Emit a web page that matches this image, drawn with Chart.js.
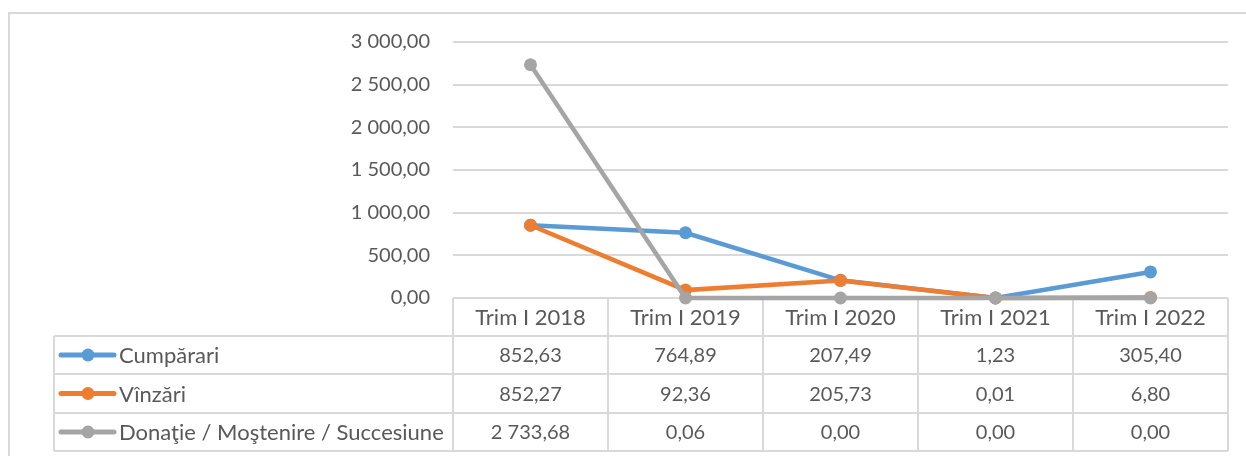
<!DOCTYPE html>
<html>
<head>
<meta charset="utf-8">
<script src="https://cdn.jsdelivr.net/npm/chart.js@4"></script>
<style>
  body { margin: 0; background: #fff; }
  canvas { display: block; }
</style>
</head>
<body>
<canvas id="chart" width="1246" height="456"></canvas>
<script>
// data
const categories = ["Trim I 2018", "Trim I 2019", "Trim I 2020", "Trim I 2021", "Trim I 2022"];
const seriesNames = ["Cumpărari", "Vînzări", "Donaţie / Moştenire / Succesiune"];
const cumparari = [852.63, 764.89, 207.49, 1.23, 305.40];
const vinzari = [852.27, 92.36, 205.73, 0.01, 6.80];
const donatie = [2733.68, 0.06, 0.00, 0.00, 0.00];
const colors = ["#5B9BD5", "#ED7D31", "#A5A5A5"];

const FONT = "Lato, 'Open Sans', sans-serif";
const TEXT = "#595959";
const LINE = "#D9D9D9";
const rowTops = [298, 336, 374, 413, 451];
const legendLeft = 54;

// 2 733,68 style
function fmt(v) {
  let [i, d] = v.toFixed(2).split(".");
  i = i.replace(/\B(?=(\d{3})+(?!\d))/g, " ");
  return i + "," + d;
}

const allSeries = [cumparari, vinzari, donatie];

// data table under the plot: grid first, text after
const tablePlugin = {
  id: "dataTable",
  beforeDatasetsDraw(chart) {
    const ctx = chart.ctx;
    const area = chart.chartArea;
    const colW = (area.right - area.left) / categories.length;

    ctx.save();
    ctx.strokeStyle = LINE;
    ctx.lineWidth = 2;
    ctx.strokeRect(9, 13, 1250, 460);

    ctx.beginPath();
    ctx.moveTo(area.left, rowTops[0]);
    ctx.lineTo(area.right, rowTops[0]);
    for (let r = 1; r < rowTops.length; r++) {
      ctx.moveTo(legendLeft, rowTops[r]);
      ctx.lineTo(area.right, rowTops[r]);
    }
    for (let c = 0; c <= categories.length; c++) {
      const cx = area.left + c * colW;
      ctx.moveTo(cx, rowTops[0]);
      ctx.lineTo(cx, rowTops[4]);
    }
    ctx.moveTo(legendLeft, rowTops[1]);
    ctx.lineTo(legendLeft, rowTops[4]);
    ctx.stroke();
    ctx.restore();
  },
  afterDraw(chart) {
    const ctx = chart.ctx;
    const x = chart.scales.x;

    ctx.save();
    ctx.fillStyle = TEXT;
    ctx.textAlign = "center";
    ctx.textBaseline = "middle";
    ctx.font = "22px " + FONT;
    categories.forEach((c, i) => {
      ctx.fillText(c, x.getPixelForValue(i), (rowTops[0] + rowTops[1]) / 2 + 1);
    });
    allSeries.forEach((s, r) => {
      const cy = (rowTops[r + 1] + rowTops[r + 2]) / 2 + 1;
      ctx.font = "20px " + FONT;
      s.forEach((v, i) => {
        ctx.fillText(fmt(v), x.getPixelForValue(i), cy);
      });
      // legend key
      ctx.strokeStyle = colors[r];
      ctx.lineWidth = 5;
      ctx.lineCap = "round";
      ctx.beginPath();
      ctx.moveTo(61, cy - 1);
      ctx.lineTo(114, cy - 1);
      ctx.stroke();
      ctx.fillStyle = colors[r];
      ctx.beginPath();
      ctx.arc(88, cy - 1, 6.5, 0, Math.PI * 2);
      ctx.fill();
      ctx.fillStyle = TEXT;
      ctx.textAlign = "left";
      ctx.font = "22px " + FONT;
      ctx.fillText(seriesNames[r], 119, cy);
      ctx.textAlign = "center";
    });
    ctx.restore();
  }
};

const datasets = allSeries.map((s, i) => ({
  label: seriesNames[i],
  data: s,
  borderColor: colors[i],
  backgroundColor: colors[i],
  borderWidth: 4.5,
  pointRadius: 6.5,
  pointHoverRadius: 6.5,
  pointBorderWidth: 0,
  tension: 0,
  clip: false,
  order: 3 - i
}));

new Chart(document.getElementById("chart"), {
  type: "line",
  data: { labels: categories, datasets: datasets },
  options: {
    responsive: false,
    animation: false,
    events: [],
    layout: { padding: { top: 42, bottom: 158, right: 18, left: 0 } },
    plugins: { legend: { display: false }, tooltip: { enabled: false } },
    scales: {
      x: {
        display: false,
        offset: true
      },
      y: {
        min: 0,
        max: 3000,
        afterFit(scale) { scale.width = 453; },
        border: { display: false },
        grid: { color: LINE, lineWidth: 2, drawTicks: false },
        ticks: {
          stepSize: 500,
          padding: 23,
          color: TEXT,
          font: { family: FONT, size: 20 },
          callback: (v) => fmt(v)
        }
      }
    }
  },
  plugins: [tablePlugin]
});
</script>
</body>
</html>
